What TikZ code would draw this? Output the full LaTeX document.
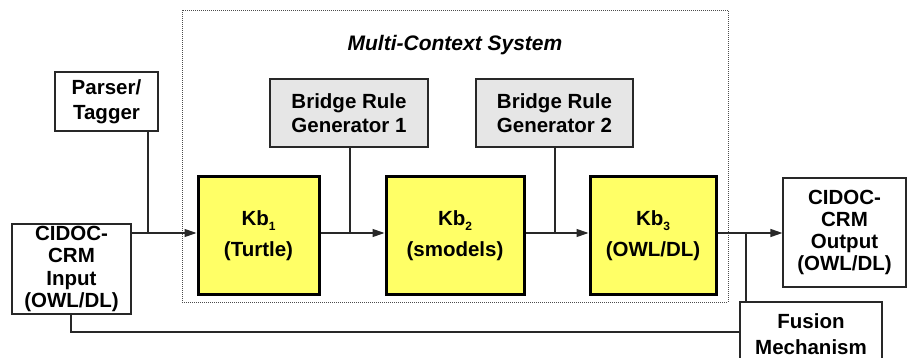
\documentclass[tikz,border=0pt]{standalone}
\usepackage{fontspec}
\setmainfont{Liberation Sans}
\usetikzlibrary{arrows.meta}
\definecolor{kbyellow}{RGB}{255,255,102}
\definecolor{brggray}{RGB}{230,230,230}
\definecolor{lnc}{RGB}{40,40,40}
\newcommand{\kbsub}[1]{\raisebox{-0.5ex}{\fontsize{12}{12}\selectfont #1}}
\begin{document}
\begin{tikzpicture}[x=1pt,y=-1pt,
  every node/.style={font=\fontsize{20.5}{24.5}\selectfont\bfseries, align=center, inner sep=0pt},
  plainbox/.style={draw=lnc, line width=1.2pt, fill=white},
  tallbox/.style={plainbox, font=\fontsize{20.5}{22.3}\selectfont\bfseries},
  brgbox/.style={draw=lnc, line width=1.2pt, fill=brggray},
  kbbox/.style={draw=black, line width=3pt, fill=kbyellow},
  conn/.style={draw=lnc, line width=1.2pt},
  arr/.style={conn, -{Triangle[length=12pt,width=8pt]}}
]
\useasboundingbox (0,0) rectangle (907,358);
\clip (0,0) rectangle (907,358);
% dotted system frame
\node[draw=black!70, line width=0.8pt, dash pattern=on 1pt off 1pt, minimum width=546pt, minimum height=292pt] (mcs) at (455,156) {};
\node[font=\fontsize{21}{22}\selectfont\bfseries\itshape] (title) at (455,45) {Multi-Context System};

\coordinate (main) at (0,233);

\node[plainbox, minimum width=103pt, minimum height=59pt] (parser) at (106.5,101.5) {Parser/\\Tagger};
\node[tallbox, minimum width=119pt, minimum height=90pt] (in) at (71.5,269) {CIDOC-\\CRM\\Input\\(OWL/DL)};
\node[brgbox, minimum width=158pt, minimum height=68pt] (brg1) at (349,113) {Bridge Rule\\Generator 1};
\node[brgbox, minimum width=157pt, minimum height=68pt] (brg2) at (554.5,113) {Bridge Rule\\Generator 2};
\node[kbbox, minimum width=121pt, minimum height=117pt] (kb1) at (258.5,235.5) {Kb\kbsub{1}\\[7pt](Turtle)};
\node[kbbox, minimum width=138pt, minimum height=117pt] (kb2) at (455,235.5) {Kb\kbsub{2}\\[7pt](smodels)};
\node[kbbox, minimum width=126pt, minimum height=117pt] (kb3) at (653,235.5) {Kb\kbsub{3}\\[7pt](OWL/DL)};
\node[tallbox, minimum width=123pt, minimum height=109pt] (out) at (844.5,232.5) {CIDOC-\\CRM\\Output\\(OWL/DL)};
\node[plainbox, minimum width=142pt, minimum height=64pt] (fus) at (811,334) {Fusion\\[2pt]Mechanism};

\coordinate (pj) at (148,233);
\coordinate (fj) at (746,233);
\coordinate (bl) at (71,332);

% connectors
\draw[arr] (in.east |- main) -- (kb1.west |- main);
\draw[conn] (parser.south -| pj) -- (pj);
\draw[arr] (kb1.east |- main) -- (kb2.west |- main);
\draw[conn] (brg1.south -| 350,0) -- (350,233);
\draw[arr] (kb2.east |- main) -- (kb3.west |- main);
\draw[conn] (brg2.south -| 555,0) -- (555,233);
\draw[arr] (kb3.east |- main) -- (out.west |- main);
\draw[conn] (fus.north -| fj) -- (fj);
\draw[conn] (in.south -| bl) -- (bl) -- (fus.west |- bl);
\end{tikzpicture}
\end{document}
